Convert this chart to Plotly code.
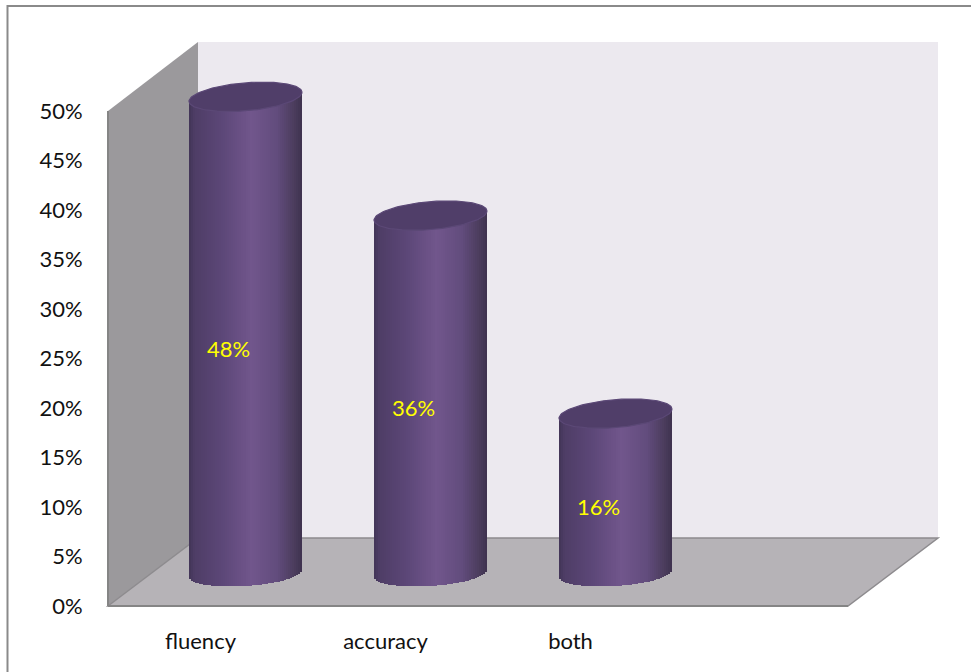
import numpy as np
import plotly.graph_objects as go

categories = ["fluency", "accuracy", "both"]
values = [0.48, 0.36, 0.16]
y_ticks = [0, 0.05, 0.10, 0.15, 0.20, 0.25, 0.30, 0.35, 0.40, 0.45, 0.50]
y_labels = ["0%", "5%", "10%", "15%", "20%", "25%", "30%", "35%", "40%", "45%", "50%"]

W, H = 971, 672
FONT = "Lato"
FS = 22
def px(x): return x / W
def py(y): return 1 - y / H
def poly(pts):
    return "M " + " L ".join(f"{px(a):.5f},{py(b):.5f}" for a, b in pts) + " Z"

Y_UNIT = 990.0   # pixels per 100 %
X_UNIT = 185.0   # pixels per category
HALF_W = 56.5 / X_UNIT

def mix(t):
    stops = [(-1.0, (66, 52, 86)), (-0.9, (78, 61, 102)), (-0.4, (92, 71, 120)), (0.1, (113, 86, 140)),
             (0.55, (98, 76, 125)), (0.85, (76, 61, 94)), (1.0, (62, 50, 78))]
    xs = [s[0] for s in stops]
    c = [np.interp(t, xs, [s[1][i] for s in stops]) for i in range(3)]
    return f"rgb({c[0]:.0f},{c[1]:.0f},{c[2]:.0f})"

fig = go.Figure()
idx = list(range(len(categories)))
fig.add_trace(go.Scatter(x=idx, y=values, mode="markers", marker=dict(opacity=0, size=1),
                         xaxis="x", yaxis="y", showlegend=False, hoverinfo="skip"))
N = 56
for j in range(N):
    t0 = -1 + 2 * j / N
    t1 = -1 + 2 * (j + 1) / N
    t = (t0 + t1) / 2
    drop = (12.5 * np.sqrt(1 - t * t) - 3.5 * t + 1.5) / Y_UNIT
    rise = 4.5 * t / Y_UNIT
    fig.add_trace(go.Bar(
        x=idx, y=[v + rise + drop for v in values], base=-drop,
        offset=t0 * HALF_W, width=(t1 - t0) * HALF_W * 1.04,
        marker=dict(color=mix(t), line=dict(width=0)),
        xaxis="x2", yaxis="y2", showlegend=False, hoverinfo="skip",
    ))

tt = np.linspace(0, 2 * np.pi, 121)
for k, v in zip(idx, values):
    ex = k + HALF_W * np.cos(tt)
    ey = v + (4.5 * np.cos(tt) + 14.0 * np.sin(tt)) / Y_UNIT
    fig.add_trace(go.Scatter(
        x=ex, y=ey, mode="lines", fill="toself", fillcolor="#503e69",
        line=dict(color="#5b4876", width=1.2),
        xaxis="x2", yaxis="y2", showlegend=False, hoverinfo="skip",
    ))

for k, v in zip(idx, values):
    fig.add_annotation(x=k, y=v / 2, xref="x2", yref="y2", text=f"{round(v * 100)}%",
                       showarrow=False, xshift=-17, yshift=-14,
                       font=dict(family=FONT, size=FS, color="#ffff00"))

shapes = [
    dict(type="path", path=poly([(198, 42), (938, 42), (938, 538), (198, 538)]),
         fillcolor="#ece9ef", line=dict(width=0), xref="paper", yref="paper", layer="below"),
    dict(type="path", path=poly([(108, 111), (198, 42), (198, 538), (108, 606)]),
         fillcolor="#9b999c", line=dict(width=0), xref="paper", yref="paper", layer="below"),
    dict(type="path", path=poly([(108, 606), (198, 538), (938, 538), (848, 606)]),
         fillcolor="#b6b3b7", line=dict(color="#8d8b8e", width=1.5), xref="paper", yref="paper", layer="below"),
    dict(type="line", x0=px(108), x1=px(108), y0=py(111), y1=py(606), xref="paper", yref="paper",
         line=dict(color="#858585", width=2), layer="below"),
    dict(type="line", x0=px(108), x1=px(848), y0=py(606), y1=py(606), xref="paper", yref="paper",
         line=dict(color="#858585", width=2), layer="below"),
    dict(type="path", path=poly([(7.5, 6), (975, 6), (975, 680), (7.5, 680)]),
         fillcolor="rgba(0,0,0,0)", line=dict(color="#8a8a8a", width=2), xref="paper", yref="paper", layer="below"),
]

# y2 keeps the same scale as y, with extra room below zero for the curved cylinder bottoms
BOTTOM_PX = 600
y2_min = (572 - BOTTOM_PX) / Y_UNIT

fig.update_layout(
    width=W, height=H, margin=dict(l=0, r=0, t=0, b=0, autoexpand=False),
    paper_bgcolor="white", plot_bgcolor="rgba(0,0,0,0)",
    barmode="overlay", bargap=0, shapes=shapes, showlegend=False,
    font=dict(family=FONT, size=FS, color="#111111"),
    xaxis=dict(domain=[px(108), px(848)], range=[-0.5, 3.5], tickmode="array",
               tickvals=idx, ticktext=categories, ticks="outside", ticklen=16,
               tickcolor="rgba(0,0,0,0)", showline=False, showgrid=False, zeroline=False,
               anchor="y", fixedrange=True, automargin=False),
    yaxis=dict(domain=[py(606), py(111)], range=[0, 0.5], tickmode="array",
               tickvals=y_ticks, ticktext=y_labels, ticks="outside", ticklen=20,
               tickcolor="rgba(0,0,0,0)", showline=False, showgrid=False, zeroline=False,
               anchor="x", fixedrange=True, automargin=False),
    xaxis2=dict(domain=[px(153), px(893)], range=[-0.5, 3.5], visible=False,
                anchor="y2", fixedrange=True),
    yaxis2=dict(domain=[py(BOTTOM_PX), py(77)], range=[y2_min, 0.5], visible=False,
                anchor="x2", fixedrange=True),
)

fig.write_html("out.html", config=dict(displayModeBar=False),
               post_script="document.body.style.margin='0';")
